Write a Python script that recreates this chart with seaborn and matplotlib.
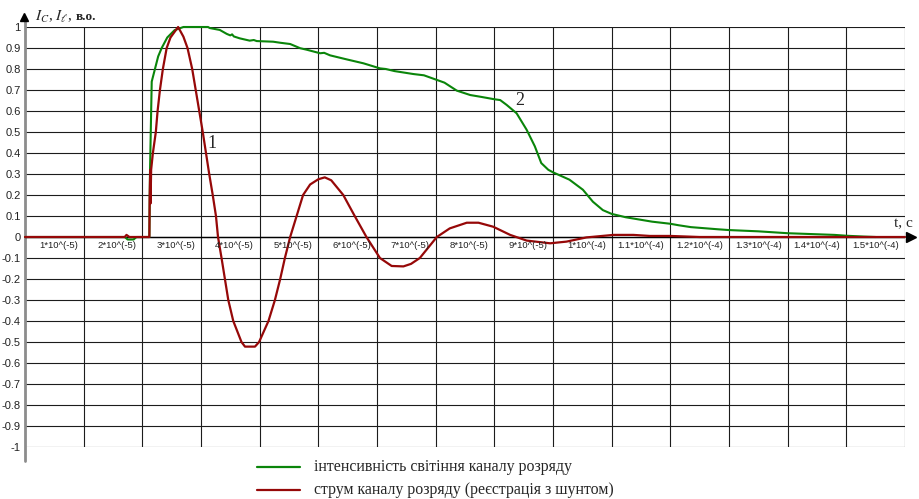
import numpy as np
import pandas as pd
import matplotlib
matplotlib.use("Agg")
import matplotlib.pyplot as plt
from matplotlib.lines import Line2D
import seaborn as sns

# ---- data (time in microseconds, normalised amplitude) ----
t_glow = [0, 17, 17.5, 18.5, 19, 21.2, 21.3, 21.6, 22.15, 22.7, 23.3, 24.25, 25.5,
          27.0, 31.2, 31.5, 33.2, 34.4, 35.0, 35.3, 35.6, 36.6, 38.3, 39.0, 39.5,
          42.3, 43.5, 45.2, 46.9, 48.0, 50.3, 51.0, 52.0, 54.8, 57.7, 60.5, 61.5,
          63.0, 66.2, 68.0, 70.2, 71.5, 73.6, 75.9, 77.6, 80.0, 81.0, 82.1, 83.8,
          85.5, 86.9, 88.0, 89.2, 90.0, 92.8, 95.1, 96.8, 98.5, 100.0, 102.4,
          106.9, 110.0, 111.4, 113.5, 118.0, 120.0, 125.0, 130.0, 135.0, 138.0,
          140.0, 143.0, 145.0]
i_glow = [0, 0, -0.012, -0.012, 0, 0, 0.30, 0.74, 0.80, 0.86, 0.90, 0.95, 0.985,
          1.0, 1.0, 0.995, 0.986, 0.967, 0.960, 0.965, 0.955, 0.946, 0.935, 0.938,
          0.933, 0.930, 0.925, 0.919, 0.899, 0.892, 0.875, 0.877, 0.865, 0.846,
          0.827, 0.803, 0.800, 0.790, 0.776, 0.770, 0.748, 0.735, 0.697, 0.676,
          0.668, 0.656, 0.652, 0.629, 0.589, 0.511, 0.432, 0.352, 0.320, 0.308,
          0.273, 0.225, 0.168, 0.128, 0.110, 0.094, 0.073, 0.063, 0.056, 0.047,
          0.037, 0.033, 0.027, 0.018, 0.013, 0.010, 0.006, 0.002, 0.0]

t_curr = [0, 17, 17.3, 17.8, 21.2, 21.25, 21.35, 21.4, 21.5, 21.8, 22.3, 22.6, 23.0,
          23.5, 24.15, 24.8, 26.1, 27.0, 27.7, 28.5, 29.1, 29.7, 30.3, 30.85, 31.4,
          32.0, 32.55, 32.9, 33.5, 34.65, 35.5, 36.9, 37.5, 39.2, 39.9, 41.5, 42.6,
          43.5, 44.3, 45.2, 46.3, 47.4, 48.6, 50.0, 51.1, 52.2, 54.25, 56.2, 58.2,
          60.5, 62.5, 64.5, 65.8, 67.3, 70.2, 72.4, 75.3, 77.3, 79.8, 82.7, 85.5,
          89.5, 92.3, 95.7, 100.3, 103.7, 106.5, 110.0, 112.0, 115.0, 150.0]
i_curr = [0, 0, 0.01, 0, 0, 0.19, 0.32, 0.16, 0.32, 0.40, 0.50, 0.60, 0.70,
          0.80, 0.90, 0.95, 1.0, 0.954, 0.90, 0.80, 0.70, 0.60, 0.50, 0.40, 0.30,
          0.20, 0.10, 0.0, -0.10, -0.30, -0.40, -0.50, -0.522, -0.522, -0.50,
          -0.40, -0.30, -0.20, -0.10, 0.0, 0.10, 0.20, 0.25, 0.275, 0.284, 0.27,
          0.20, 0.10, 0.0, -0.10, -0.138, -0.14, -0.128, -0.10, 0.0, 0.041, 0.068,
          0.068, 0.049, 0.010, -0.017, -0.030, -0.022, -0.002, 0.010, 0.010, 0.005,
          0.005, 0.003, 0.0, 0.0]

x_ticks = list(range(0, 151, 10))
x_tick_labels = ["1*10^(-5)", "2*10^(-5)", "3*10^(-5)", "4*10^(-5)", "5*10^(-5)",
                 "6*10^(-5)", "7*10^(-5)", "8*10^(-5)", "9*10^(-5)", "1*10^(-4)",
                 "1.1*10^(-4)", "1.2*10^(-4)", "1.3*10^(-4)", "1.4*10^(-4)",
                 "1.5*10^(-4)"]
y_ticks = [round(v, 1) for v in np.arange(-1.0, 1.01, 0.1)]
y_tick_labels = ["0" if abs(v) < 1e-9 else ("1" if v == 1 else ("-1" if v == -1 else f"{v:g}"))
                 for v in y_ticks]

legend_labels = ["інтенсивність світіння каналу розряду",
                 "струм каналу розряду (реєстрація з шунтом)"]

GREEN = "#0a850a"
RED = "#960808"
GRID = "#1c1c1c"

sns.set_style("white")
plt.rcParams["font.family"] = ["Liberation Sans", "DejaVu Sans"]
plt.rcParams["mathtext.fontset"] = "stix"

W, H = 919, 499
fig = plt.figure(figsize=(W / 100, H / 100), dpi=100)
ax = fig.add_axes([25 / W, 1 - 447 / H, 880 / W, 420 / H])
ax.set_xlim(0, 150)
ax.set_ylim(-1, 1)
for s in ax.spines.values():
    s.set_visible(False)

# grid
for x in x_ticks[1:]:
    ax.plot([x, x], [-1, 1], color=GRID, lw=0.8, zorder=1)
for y in y_ticks:
    ax.plot([0, 150], [y, y], color=GRID, lw=0.8, zorder=1)

# axes lines with arrows
ax.plot([0, 0], [-1.065, 1.03], color="#8c8c8c", lw=2.0, clip_on=False, zorder=2)
ax.plot([0, 150], [0, 0], color="k", lw=1.0, zorder=2)
ax.plot([151.0], [0], marker=">", ms=6.5, color="k", clip_on=False, zorder=5)
ax.plot([-0.2], [1.05], marker="^", ms=6, color="k", clip_on=False, zorder=5)

df_glow = pd.DataFrame({"t": t_glow, "I": i_glow})
df_curr = pd.DataFrame({"t": t_curr, "I": i_curr})
sns.lineplot(data=df_glow, x="t", y="I", ax=ax, color=GREEN, lw=1.5,
             sort=False, estimator=None, zorder=3, clip_on=False)
sns.lineplot(data=df_curr, x="t", y="I", ax=ax, color=RED, lw=1.6,
             sort=False, estimator=None, zorder=4, clip_on=False)
ax.set_xlabel("")
ax.set_ylabel("")

ax.set_xticks([])
ax.set_yticks(y_ticks)
ax.set_yticklabels(y_tick_labels, fontsize=8, color="#222222")
ax.tick_params(axis="y", length=0, pad=3)

for x, lab in zip(x_ticks[1:], x_tick_labels):
    ax.text(x - 1.0, -0.042, lab, ha="right", va="center", fontsize=6.8,
            color="#222222", zorder=6)

serif = ["Liberation Serif", "DejaVu Serif"]
ax.text(148.2, 0.045, "t, c", ha="left", va="baseline", fontsize=11,
        family=serif, clip_on=False)
ax.text(31.1, 0.424, "1", ha="left", va="baseline", fontsize=13, family=serif)
ax.text(83.5, 0.629, "2", ha="left", va="baseline", fontsize=13, family=serif)

# axis title
fig.text(35 / W, 1 - 21 / H, r"$I_C$,", fontsize=11, ha="left",
         va="baseline", family=serif)
fig.text(55 / W, 1 - 21 / H, r"$I_\ell$,", fontsize=11, ha="left",
         va="baseline", family=serif)
fig.text(76 / W, 1 - 20 / H, "в.о.", fontsize=9.5, ha="left", va="baseline",
         family=serif, weight="bold")

# legend
for (py, col, lab) in [(467, GREEN, legend_labels[0]), (490, RED, legend_labels[1])]:
    fig.add_artist(Line2D([257 / W, 300 / W], [1 - py / H, 1 - py / H],
                          color=col, lw=1.6, transform=fig.transFigure))
    fig.text(314 / W, 1 - py / H, lab, fontsize=11.4, ha="left", va="center",
             family=serif)

fig.savefig("out.png", dpi=100)
